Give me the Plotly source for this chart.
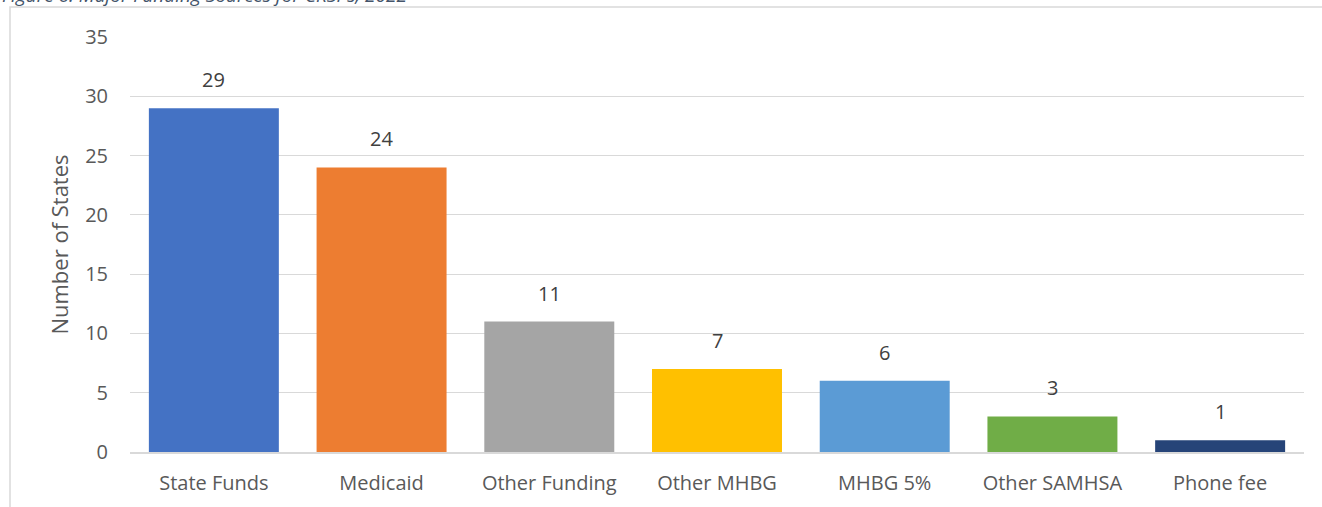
import plotly.graph_objects as go

categories = ["State Funds", "Medicaid", "Other Funding", "Other MHBG", "MHBG 5%", "Other SAMHSA", "Phone fee"]
values = [29, 24, 11, 7, 6, 3, 1]
colors = ["#4472C4", "#ED7D31", "#A5A5A5", "#FFC000", "#5B9BD5", "#70AD47", "#264478"]
y_ticks = [0, 5, 10, 15, 20, 25, 30, 35]
title_text = "Figure 6: Major Funding Sources for CRSPs, 2022"

FONT = "Open Sans"
TXT = "#595959"

fig = go.Figure(go.Bar(
    x=categories, y=values,
    marker=dict(color=colors, line=dict(width=0)),
    width=0.775, hoverinfo="x+y",
))

annotations = [dict(x=c, y=v, xref="x", yref="y", text=str(v), showarrow=False,
                    yanchor="bottom", yshift=13,
                    font=dict(family=FONT, size=20, color="#404040"))
               for c, v in zip(categories, values)]

annotations.append(dict(text="<i>" + title_text + "</i>", xref="paper", yref="paper",
                        x=(0 - 130) / 1174, y=(452 - 10) / 415, xanchor="left", yanchor="bottom",
                        showarrow=False, font=dict(family=FONT, size=19, color="#44546A")))

fig.update_layout(
    width=1322, height=507,
    margin=dict(l=130, r=18, t=37, b=55),
    paper_bgcolor="white", plot_bgcolor="white",
    showlegend=False,
    font=dict(family=FONT, color=TXT),
    xaxis=dict(showgrid=False, showline=True, linecolor="#D9D9D9", linewidth=1.5,
               tickfont=dict(family=FONT, size=20, color=TXT), ticks="", ticklabelstandoff=12),
    yaxis=dict(range=[0, 35], tickvals=y_ticks, showgrid=True, gridcolor="#D9D9D9",
               gridwidth=1.3, zeroline=False, showline=False, ticks="",
               tickfont=dict(family=FONT, size=20, color=TXT), ticklabelstandoff=21,
               title=dict(text="Number of States", font=dict(family=FONT, size=22, color=TXT), standoff=10)),
    shapes=[dict(type="rect", xref="paper", yref="paper",
                 x0=(10 - 130) / 1174, x1=1.03, y0=-0.3, y1=(452 - 7) / 415,
                 line=dict(color="#D9D9D9", width=1.5), fillcolor="rgba(0,0,0,0)", layer="below")],
    annotations=annotations,
)

fig.write_html("out.html", config={"displayModeBar": False},
               post_script="document.body.style.margin='0';")
